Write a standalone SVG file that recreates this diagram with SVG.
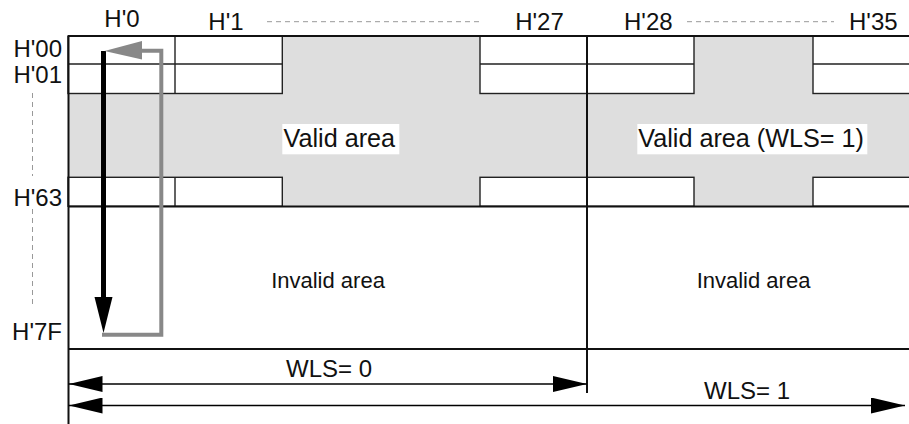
<svg xmlns="http://www.w3.org/2000/svg" width="909" height="424" viewBox="0 0 909 424">
<defs>
<style>
text{font-family:"Liberation Sans",Arial,sans-serif;fill:#111}
.lbl{font-size:24px}
.val{font-size:25.2px}
.inv{font-size:22px}
.ln{stroke:#111;fill:none}
.thin{stroke:#222;stroke-width:1.4;fill:none}
.dash{stroke:#999;stroke-width:1;stroke-dasharray:5 4;fill:none}
.cell{fill:#fff;stroke:#222;stroke-width:1.4}
</style>
<marker id="ah" viewBox="0 0 34 16" refX="34" refY="8" markerWidth="34" markerHeight="16" markerUnits="userSpaceOnUse" orient="auto-start-reverse">
<path d="M0,0 L34,8 L0,16 Z" fill="#000"/>
</marker>
</defs>
<rect width="909" height="424" fill="#fff"/>
<g id="grid">
<rect x="68" y="36" width="841" height="170.5" fill="#dedede"/>
<rect class="cell" x="68" y="36" width="214.3" height="57.5"/>
<rect class="cell" x="68" y="177.3" width="214.3" height="29"/>
<rect class="cell" x="480" y="36" width="214" height="57.5"/>
<rect class="cell" x="480" y="177.3" width="214" height="29"/>
<rect class="cell" x="813" y="36" width="100" height="57.5"/>
<rect class="cell" x="813" y="177.3" width="100" height="29"/>
<path class="thin" d="M68,64 H282.3 M480,64 H694 M813,64 H909"/>
<path class="thin" d="M175,36 V93.5 M175,177.3 V206.5"/>
<path class="ln" stroke-width="2" d="M68,36 H909 M68,206.5 H909 M68,349 H909"/>
<path class="ln" stroke-width="2" d="M68.5,36 V424 M587,36 V393"/>
</g>
<g id="valid-area-0">
<rect x="282.3" y="124" width="117" height="30.3" fill="#fff"/>
<text class="val" x="283.5" y="147">Valid area</text>
</g>
<g id="valid-area-1">
<rect x="637.3" y="124" width="230" height="30.3" fill="#fff"/>
<text class="val" x="638.3" y="147">Valid area (WLS= 1)</text>
</g>
<g id="invalid-area-0">
<text class="inv" x="328" y="287.5" text-anchor="middle">Invalid area</text>
</g>
<g id="invalid-area-1">
<text class="inv" x="753.5" y="287.5" text-anchor="middle">Invalid area</text>
</g>
<g id="col-labels">
<text class="lbl" x="122" y="27" text-anchor="middle">H'0</text>
<text class="lbl" x="226" y="29.5" text-anchor="middle">H'1</text>
<text class="lbl" x="539.5" y="29.5" text-anchor="middle">H'27</text>
<text class="lbl" x="648.3" y="29.5" text-anchor="middle">H'28</text>
<text class="lbl" x="873.3" y="29.5" text-anchor="middle">H'35</text>
<path class="dash" d="M267,21.7 H480 M687,21.7 H834"/>
</g>
<g id="row-labels">
<text class="lbl" x="62" y="57" text-anchor="end">H'00</text>
<text class="lbl" x="62" y="83" text-anchor="end">H'01</text>
<text class="lbl" x="62" y="205.5" text-anchor="end">H'63</text>
<text class="lbl" x="62" y="340" text-anchor="end">H'7F</text>
<path class="dash" d="M32.5,93 V176 M32.5,209 V308"/>
</g>
<g id="connectors">
<path d="M103.5,51 V300" stroke="#000" stroke-width="5" fill="none"/>
<path d="M94.5,297 L112.5,297 L103.5,333 Z" fill="#000"/>
<path d="M102,334.7 H161.3 V50.7 H140" stroke="#888" stroke-width="4" fill="none"/>
<path d="M104.5,51 L142,41 L142,59.5 Z" fill="#888"/>
<line x1="68.5" y1="384" x2="587" y2="384" stroke="#000" stroke-width="1.5" marker-start="url(#ah)" marker-end="url(#ah)"/>
<line x1="68.5" y1="405.5" x2="905" y2="405.5" stroke="#000" stroke-width="1.5" marker-start="url(#ah)" marker-end="url(#ah)"/>
</g>
<g id="wls-labels">
<text class="lbl" x="286" y="376.5">WLS= 0</text>
<text class="lbl" x="704" y="399">WLS= 1</text>
</g>
</svg>
